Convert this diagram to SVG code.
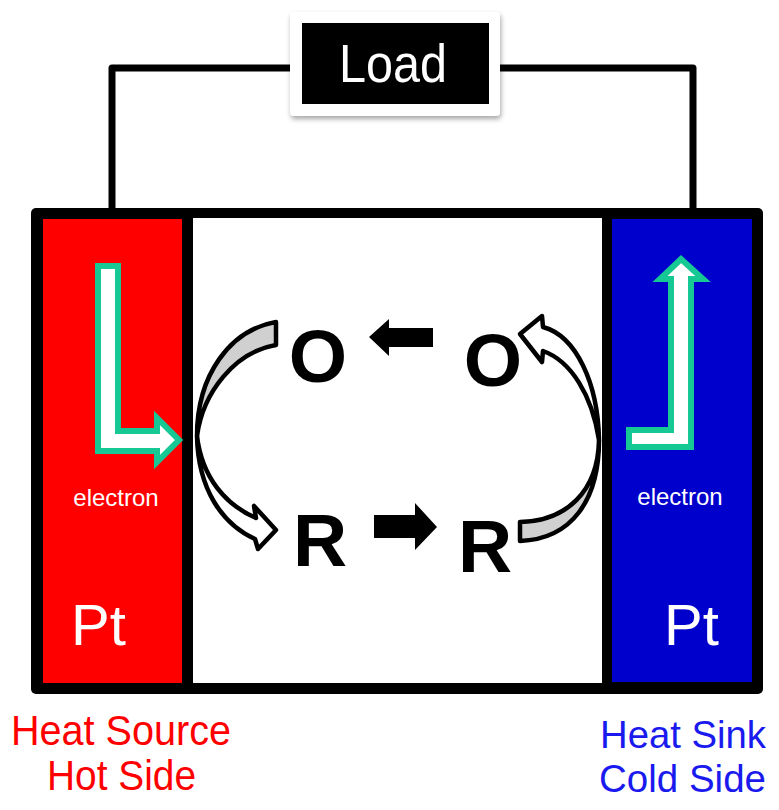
<svg xmlns="http://www.w3.org/2000/svg" width="779" height="810" viewBox="0 0 779 810">
<defs>
<filter id="sh" x="-10%" y="-10%" width="130%" height="140%">
<feDropShadow dx="1" dy="3" stdDeviation="2.5" flood-color="#000" flood-opacity="0.35"/>
</filter>
<style>
text{font-family:"Liberation Sans",Arial,sans-serif}
.sp{font-weight:bold;font-size:75px;fill:#000;text-anchor:middle}
.pt{font-size:58px;fill:#fff}
.el{font-size:24px;fill:#fff;text-anchor:middle}
.earrow{fill:#fff;stroke:#16C894;stroke-width:6;stroke-linejoin:miter}
.band{stroke:#000;stroke-width:4.5;stroke-linejoin:round}
.wire{fill:none;stroke:#000;stroke-width:7;stroke-linejoin:round}
.lbl{font-size:42px}
.lblr{font-size:39px}
</style>
</defs>
<rect width="779" height="810" fill="#fff"/>

<g id="connectors">
<path class="wire" d="M112,210 V68 H292 M498,68 H693 V210"/>
</g>

<g id="cell">
<rect x="31" y="208" width="732" height="486" rx="5" fill="#000"/>
<rect x="193" y="218" width="409" height="465" fill="#fff"/>
</g>

<g id="hot-electrode">
<rect x="43" y="219" width="139" height="464" fill="#FF0000"/>
<text class="el" x="116" y="506">electron</text>
<text class="pt" x="71" y="645">Pt</text>
</g>

<g id="cold-electrode">
<rect x="612" y="219" width="140" height="463" fill="#0000CC"/>
<text class="el" x="680" y="505" fill="#eef">electron</text>
<text class="pt" x="664" y="645">Pt</text>
</g>

<g id="electron-arrows">
<polygon class="earrow" points="98,266 118,266 118,431 157,431 157,418 179,440 157,462 157,451 98,451"/>
<polygon class="earrow" points="629,430 671,430 671,279 660,279 681,259 703,279 691,279 691,447 629,447"/>
</g>

<g id="load">
<rect x="290" y="12" width="210" height="104" rx="4" fill="#fff" filter="url(#sh)"/>
<rect x="302" y="23" width="187" height="81" fill="#000"/>
<text x="393" y="82" font-size="53" fill="#fff" text-anchor="middle" textLength="108" lengthAdjust="spacingAndGlyphs">Load</text>
</g>

<g id="species-O-left"><text class="sp" x="318" y="382">O</text></g>
<g id="species-O-right"><text class="sp" x="493" y="386">O</text></g>
<g id="species-R-left"><text class="sp" x="320" y="566">R</text></g>
<g id="species-R-right"><text class="sp" x="485" y="572">R</text></g>

<g id="reaction-arrows">
<polygon points="369,337 389,319 389,328 433,328 433,347 389,347 389,356" fill="#000"/>
<polygon points="374,515 415,515 415,503 437,527 415,550 415,538 374,538" fill="#000"/>
</g>

<g id="curved-arrow-left">
<path class="band" fill="#d0d0d0" d="M276,322 C230,330 197,375 197,436 C203,392 235,352 276,345 Z"/>
<path class="band" fill="#fff" d="M197,436 C198,489 222,524 255,539 L258,549 L276,530 L254,506 L256,518 C226,505 202,478 197,436 Z"/>
</g>

<g id="curved-arrow-right">
<path class="band" fill="#d0d0d0" d="M599,440 C598,492 566,521 520,522 L520,541 C572,539 599,500 599,440 Z"/>
<path class="band" fill="#fff" d="M599,440 C598,383 576,336 543,327 L542,316 L520,334 L542,362 L543,351 C571,361 592,395 599,440 Z"/>
</g>

<g id="labels">
<text class="lbl" x="11" y="745" fill="#FF0000" textLength="220" lengthAdjust="spacingAndGlyphs">Heat Source</text>
<text class="lbl" x="47" y="790" fill="#FF0000" textLength="149" lengthAdjust="spacingAndGlyphs">Hot Side</text>
<text class="lblr" x="600" y="748" fill="#1A1AEE" textLength="166" lengthAdjust="spacingAndGlyphs">Heat Sink</text>
<text class="lblr" x="599" y="792" fill="#1A1AEE" textLength="167" lengthAdjust="spacingAndGlyphs">Cold Side</text>
</g>
</svg>
